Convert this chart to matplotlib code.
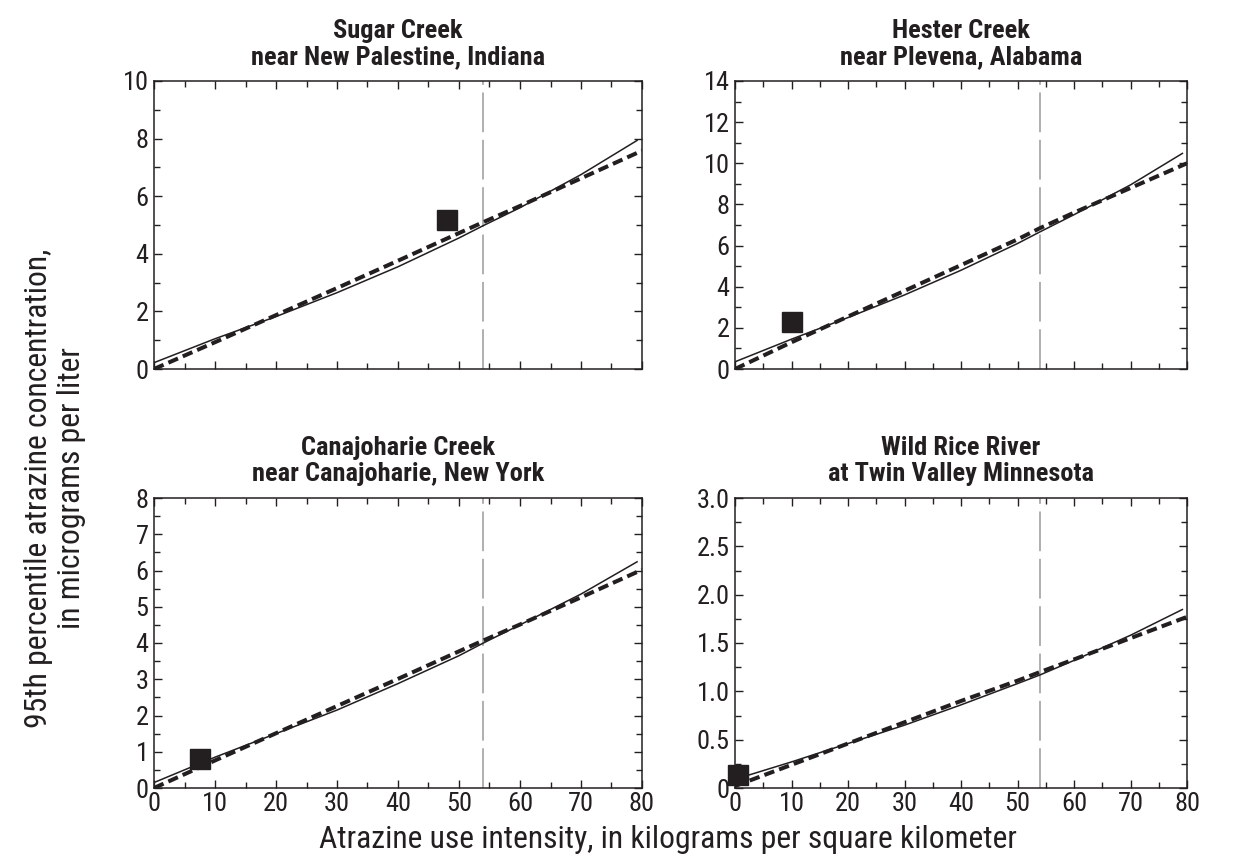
import numpy as np
import matplotlib
matplotlib.use("Agg")
import matplotlib.pyplot as plt
from matplotlib import font_manager
from matplotlib.ticker import MultipleLocator, FixedLocator, FixedFormatter

INK = '#231f20'

# Atrazine use intensity, kg/km^2
x_pts = [0, 10, 20, 30, 40, 50, 54, 60, 70, 80]
x_solid = [0, 10, 20, 30, 40, 50, 54, 60, 70, 79.3]

titles = [
    "Sugar Creek\nnear New Palestine, Indiana",
    "Hester Creek\nnear Plevena, Alabama",
    "Canajoharie Creek\nnear Canajoharie, New York",
    "Wild Rice River\nat Twin Valley Minnesota",
]

# Solid curve (model) and thick dashed curve (alternative model) per site
sugar_solid = [0.22, 1.05, 1.82, 2.65, 3.55, 4.55, 4.98, 5.6, 6.75, 7.95]
sugar_dash = [0.0, 0.93, 1.87, 2.81, 3.76, 4.72, 5.1, 5.66, 6.62, 7.58]

hester_solid = [0.35, 1.45, 2.5, 3.6, 4.8, 6.1, 6.67, 7.5, 8.95, 10.5]
hester_dash = [0.0, 1.3, 2.55, 3.8, 5.05, 6.3, 6.85, 7.6, 8.8, 10.0]

canaj_solid = [0.15, 0.85, 1.5, 2.15, 2.88, 3.65, 4.0, 4.5, 5.35, 6.25]
canaj_dash = [0.0, 0.76, 1.51, 2.26, 3.01, 3.77, 4.07, 4.51, 5.26, 6.02]

wild_solid = [0.09, 0.27, 0.46, 0.65, 0.86, 1.08, 1.17, 1.32, 1.58, 1.85]
wild_dash = [0.02, 0.24, 0.46, 0.68, 0.9, 1.11, 1.2, 1.33, 1.55, 1.77]

solids = [sugar_solid, hester_solid, canaj_solid, wild_solid]
dashes = [sugar_dash, hester_dash, canaj_dash, wild_dash]

# Observed 95th percentile at each site's use intensity
obs_x = [48.0, 10.0, 7.6, 0.5]
obs_y = [5.17, 2.28, 0.8, 0.13]

# Reference use intensity
ref_x = 54

y_max = [10, 14, 8, 3.0]
y_major = [2, 2, 1, 0.5]
y_minor = [1, 1, 0.5, 0.25]
y_labels = [
    ["0", "2", "4", "6", "8", "10"],
    ["0", "2", "4", "6", "8", "10", "12", "14"],
    ["0", "1", "2", "3", "4", "5", "6", "7", "8"],
    ["0", "0.5", "1.0", "1.5", "2.0", "2.5", "3.0"],
]
x_labels = ["0", "10", "20", "30", "40", "50", "60", "70", "80"]

y_title = "95th percentile atrazine concentration,\nin micrograms per liter"
x_title = "Atrazine use intensity, in kilograms per square kilometer"

# Prefer a narrow sans face for the text
entries = font_manager.fontManager.ttflist
def available(name, stretches=None):
    return any(f.name == name and (stretches is None or f.stretch in stretches)
               for f in entries)

family, stretch = 'Roboto', 'normal'
narrow = ('condensed', 'semi-condensed', 'extra-condensed', 'ultra-condensed')
for cand in ['Liberation Sans Narrow', 'Roboto Condensed', 'Open Sans Condensed',
             'Noto Sans Condensed', 'DejaVu Sans Condensed']:
    if available(cand):
        family = cand
        break
else:
    for cand in ['Roboto', 'Noto Sans', 'Open Sans', 'DejaVu Sans']:
        if available(cand, narrow):
            family, stretch = cand, 'condensed'
            break
plt.rcParams['font.family'] = [family, 'DejaVu Sans']
plt.rcParams['font.stretch'] = stretch

W, H = 1245, 865
fig = plt.figure(figsize=(W / 100, H / 100), dpi=100)
renderer = fig.canvas.get_renderer()

def fit_size(text, target_px, base, cap, **kw):
    t = fig.text(0, 0, text, fontsize=base, **kw)
    w = t.get_window_extent(renderer).width
    t.remove()
    return min(cap, base * target_px / w)

tick_fs = 19
title_fs = fit_size("near New Palestine, Indiana", 316, 17, 19, fontweight='bold')
label_fs = fit_size(x_title, 700, 22, 24)

boxes = [
    (154, 81, 642, 369),
    (735, 81, 1187, 369),
    (154, 498, 642, 788),
    (735, 498, 1187, 788),
]

for i, (l, t, r, b) in enumerate(boxes):
    ax = fig.add_axes([l / W, 1 - b / H, (r - l) / W, (b - t) / H])
    ax.set_xlim(0, 80)
    ax.set_ylim(0, y_max[i])

    ax.axvline(ref_x, color='#9a9a9a', lw=1.1, dashes=(26, 5), zorder=1)
    ax.plot(x_solid, solids[i], color=INK, lw=1.1, zorder=3,
            solid_capstyle='butt')
    ax.plot(x_pts, dashes[i], color=INK, lw=2.9, dashes=(2.6, 1.3),
            zorder=3, dash_capstyle='butt')
    ax.plot([obs_x[i]], [obs_y[i]], marker='s', ms=14.5, color=INK,
            linestyle='none', zorder=4, clip_on=False)

    ax.xaxis.set_major_locator(MultipleLocator(10))
    ax.xaxis.set_minor_locator(MultipleLocator(5))
    ticks = list(np.arange(0, y_max[i] + 1e-9, y_major[i]))
    ax.yaxis.set_major_locator(FixedLocator(ticks))
    ax.yaxis.set_major_formatter(FixedFormatter(y_labels[i]))
    ax.yaxis.set_minor_locator(MultipleLocator(y_minor[i]))

    ax.tick_params(which='both', direction='in', top=True, right=True,
                   colors=INK, width=1.0)
    ax.tick_params(which='major', length=5.5, labelsize=tick_fs, pad=4)
    ax.tick_params(which='minor', length=4)
    if i < 2:
        ax.tick_params(labelbottom=False)
    else:
        ax.set_xticks(np.arange(0, 81, 10))
        ax.set_xticklabels(x_labels)
        ax.tick_params(axis='x', pad=3)
    for s in ax.spines.values():
        s.set_color(INK)
        s.set_linewidth(1.1)

    ax.set_title(titles[i], fontsize=title_fs, fontweight='bold', color=INK,
                 pad=12, linespacing=1.12)

fig.text(55 / W, 1 - 488 / H, y_title,
         rotation=90, ha='center', va='center', fontsize=label_fs, color=INK,
         linespacing=1.15)
fig.text(668 / W, 1 - 840 / H, x_title,
         ha='center', va='center', fontsize=label_fs, color=INK)

fig.savefig("out.png", dpi=100, facecolor='white')
